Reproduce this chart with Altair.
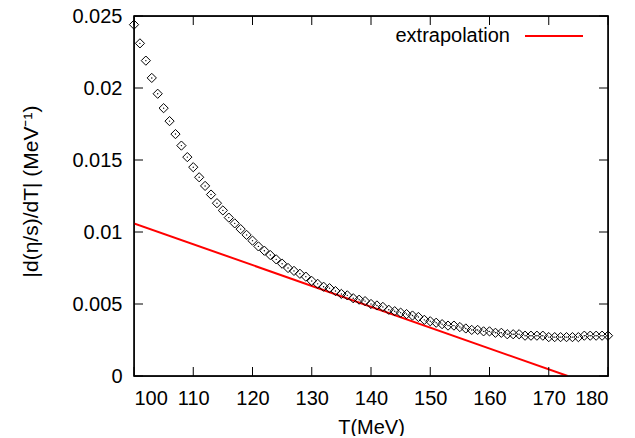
import altair as alt
import pandas as pd

T = list(range(100, 181))
deriv = [
    0.0244, 0.0231, 0.0219, 0.0207, 0.0196, 0.0186, 0.0177, 0.0168, 0.0160, 0.0152,
    0.0145, 0.0138, 0.0132, 0.0126, 0.0120, 0.0115, 0.0110, 0.0106, 0.0102, 0.0098,
    0.0094, 0.0090, 0.0087, 0.0084, 0.0081, 0.0078, 0.0075, 0.0073, 0.0071, 0.0069,
    0.0066, 0.0064, 0.0062, 0.0061, 0.0059, 0.0057, 0.0056, 0.0054, 0.0053, 0.0052,
    0.0050, 0.0049, 0.0048, 0.0046, 0.0045, 0.0044, 0.0043, 0.0042, 0.0041, 0.0039,
    0.0038, 0.0037, 0.0036, 0.0035, 0.0035, 0.0034, 0.0033, 0.0032, 0.0032, 0.0031,
    0.0031, 0.0030, 0.0030, 0.0029, 0.0029, 0.0029, 0.0028, 0.0028, 0.0028, 0.0028,
    0.0027, 0.0027, 0.0027, 0.0027, 0.0027, 0.0027, 0.0028, 0.0028, 0.0028, 0.0028,
    0.0028,
]
line_T = [100, 173.2]
line_val = [0.0106, 0.0]
x_ticks = [100, 110, 120, 130, 140, 150, 160, 170, 180]
y_ticks = [0, 0.005, 0.01, 0.015, 0.02, 0.025]
legend_label = "extrapolation"

W, H = 474, 360
FONT = "Liberation Sans"
FS = 20

pts = pd.DataFrame({"T": T, "v": deriv})
ln = pd.DataFrame({"T": line_T, "v": line_val})
xt = pd.DataFrame({"t": x_ticks})
yt = pd.DataFrame({"t": y_ticks})

xs = alt.Scale(domain=[100, 180], nice=False, zero=False)
ys = alt.Scale(domain=[0, 0.025], nice=False, zero=False)

xaxis = alt.Axis(values=x_ticks, ticks=False, domain=False, grid=False, labelFont=FONT,
                 labelFontSize=FS, labelColor="black", labelPadding=12, title="T(MeV)",
                 titleFont=FONT, titleFontSize=FS, titleFontWeight="normal", titleColor="black",
                 titlePadding=9)
yaxis = alt.Axis(values=y_ticks, ticks=False, domain=False, grid=False, labelFont=FONT,
                 labelFontSize=FS, labelColor="black", labelPadding=12,
                 labelExpr="format(datum.value, '.3~f')",
                 title="|d(η/s)/dT| (MeV⁻¹)", titleFont=FONT, titleFontSize=21,
                 titleFontWeight="normal", titleColor="black", titlePadding=30, titleY=175)

base_pts = alt.Chart(pts)
diamonds = base_pts.mark_point(shape="diamond", size=85, filled=False, color="black",
                               strokeWidth=1, opacity=1).encode(
    x=alt.X("T:Q", scale=xs, axis=xaxis),
    y=alt.Y("v:Q", scale=ys, axis=yaxis),
)
dots = base_pts.mark_circle(size=2, color="black", opacity=1).encode(
    x=alt.X("T:Q", scale=xs), y=alt.Y("v:Q", scale=ys))

red = alt.Chart(ln).mark_line(color="#ff0000", strokeWidth=2, clip=True).encode(
    x=alt.X("T:Q", scale=xs), y=alt.Y("v:Q", scale=ys))

TL = 9
bt = alt.Chart(xt).mark_rule(color="black", strokeWidth=1).encode(
    x=alt.X("t:Q", scale=xs), y=alt.value(H - TL), y2=alt.value(H))
tt = alt.Chart(xt).mark_rule(color="black", strokeWidth=1).encode(
    x=alt.X("t:Q", scale=xs), y=alt.value(0), y2=alt.value(TL))
lt = alt.Chart(yt).mark_rule(color="black", strokeWidth=1).encode(
    y=alt.Y("t:Q", scale=ys), x=alt.value(0), x2=alt.value(TL))
rt = alt.Chart(yt).mark_rule(color="black", strokeWidth=1).encode(
    y=alt.Y("t:Q", scale=ys), x=alt.value(W - TL), x2=alt.value(W))

frame = alt.Chart(pd.DataFrame({"f": [0]})).mark_rect(
    fill=None, fillOpacity=0, stroke="black", strokeWidth=1.3).encode(
    x=alt.value(0), x2=alt.value(W), y=alt.value(0), y2=alt.value(H))

leg_text = alt.Chart(pd.DataFrame({"label": [legend_label]})).mark_text(
    align="right", baseline="middle", font=FONT, fontSize=FS, color="black").encode(
    text="label:N", x=alt.value(376), y=alt.value(20))
leg_line = alt.Chart(pd.DataFrame({"label": [legend_label]})).mark_rule(
    color="#ff0000", strokeWidth=2).encode(
    x=alt.value(391), x2=alt.value(449), y=alt.value(20))

chart = alt.layer(red, diamonds, dots, bt, tt, lt, rt, frame, leg_text, leg_line).properties(
    width=W, height=H,
    autosize=alt.AutoSizeParams(type="none"),
    padding={"left": 126, "top": 8, "right": 19, "bottom": 60},
).configure(background="white").configure_view(stroke="black", strokeWidth=1.3)

chart.save("out.html", embed_options={"renderer": "svg", "actions": False})
